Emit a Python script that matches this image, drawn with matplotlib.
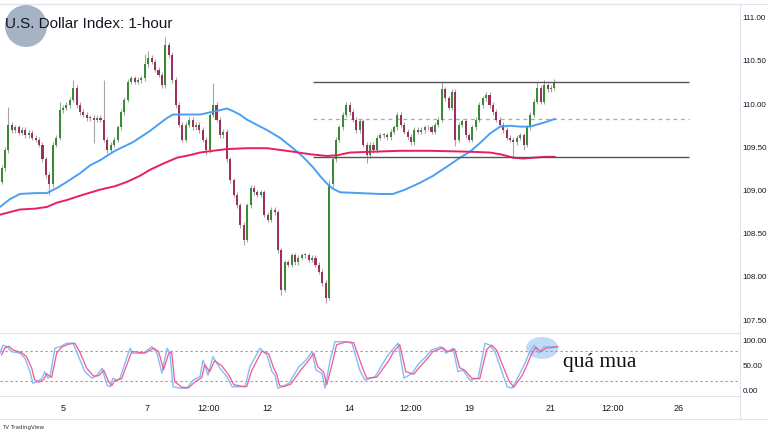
import matplotlib
matplotlib.use("Agg")
import matplotlib.pyplot as plt
import numpy as np
from matplotlib.patches import Ellipse
from matplotlib.lines import Line2D
from matplotlib import font_manager

# ---------------- data ----------------
# 2-hour candles; hour index relative to day "5" 00:00
candle_hours = list(range(-36, 290, 2))
closes = [
    109.26, 109.47, 109.76, 109.70, 109.73, 109.67, 109.70, 109.64, 109.67, 109.61,
    109.59, 109.53, 109.36, 109.18, 109.07, 109.53, 109.61, 109.93, 109.96, 109.99,
    110.05, 110.19, 109.99, 109.91, 109.88, 109.84, 109.84, 109.82, 109.84, 109.82,
    109.59, 109.47, 109.53, 109.59, 109.73, 109.91, 110.05, 110.26, 110.30, 110.26,
    110.28, 110.30, 110.46, 110.54, 110.49, 110.40, 110.34, 110.22, 110.69, 110.57,
    110.28, 109.99, 109.76, 109.59, 109.76, 109.82, 109.73, 109.76, 109.70, 109.59,
    109.47, 109.88, 109.99, 109.82, 109.64, 109.68, 109.36, 109.12, 108.95, 108.83,
    108.60, 108.43, 108.83, 109.03, 108.98, 108.95, 108.98, 108.72, 108.66, 108.78,
    108.75, 108.31, 107.85, 108.17, 108.14, 108.25, 108.17, 108.22, 108.25, 108.25,
    108.20, 108.22, 108.14, 108.06, 107.93, 107.76, 109.07, 109.36, 109.59, 109.73,
    109.88, 109.99, 109.91, 109.82, 109.70, 109.80, 109.53, 109.41, 109.53, 109.47,
    109.61, 109.64, 109.64, 109.62, 109.68, 109.73, 109.88, 109.76, 109.68, 109.62,
    109.56, 109.70, 109.68, 109.70, 109.73, 109.73, 109.68, 109.76, 109.82, 110.17,
    110.07, 109.96, 110.14, 109.59, 109.76, 109.80, 109.64, 109.59, 109.73, 109.82,
    109.99, 110.07, 110.11, 109.99, 109.91, 109.82, 109.76, 109.70, 109.61, 109.59,
    109.56, 109.61, 109.64, 109.53, 109.73, 109.88, 110.03, 110.19, 110.03, 110.22,
    110.17, 110.19, 110.24,
]
first_open = 109.10
# notable wick extremes (candle index -> price)
wick_highs = {2: 109.97, 17: 110.03, 21: 110.28, 30: 110.28, 42: 110.58, 43: 110.62,
              48: 110.78, 62: 110.25, 96: 109.12, 101: 110.03, 129: 110.26,
              132: 110.17, 142: 110.14, 157: 110.26, 159: 110.28, 162: 110.29}
wick_lows = {14: 108.95, 27: 109.55, 60: 109.41, 71: 108.37, 82: 107.79,
             95: 107.70, 107: 109.32, 133: 109.51, 150: 109.38, 153: 109.47}

# moving averages (hour, price)
ma_fast_hours = [-36.9, -31.1, -25.2, -16.4, -9.4, -3.5, 2.3, 10.0, 15.8, 21.7, 30.5,
                 41.0, 51.0, 56.9, 61.0, 64.5, 71.5, 80.3, 87.3, 92.0, 96.1, 99.6,
                 103.7, 107.9, 113.7, 119.6, 127.2, 134.8, 140.7, 146.5, 150.6, 154.7,
                 158.3, 162.4, 174.1, 185.8, 193.4, 200.5, 209.3, 216.9, 226.8, 232.7,
                 238.6, 244.4, 250.3, 256.2, 262.0, 267.9, 273.7, 282.5, 288.4]
ma_fast = [108.81, 108.90, 108.96, 108.97, 108.97, 109.03, 109.10, 109.20, 109.29,
           109.35, 109.46, 109.56, 109.69, 109.78, 109.84, 109.88, 109.88, 109.88,
           109.91, 109.93, 109.95, 109.92, 109.88, 109.82, 109.76, 109.70, 109.61,
           109.49, 109.39, 109.27, 109.17, 109.08, 109.02, 108.98, 108.97, 108.96,
           108.96, 109.01, 109.09, 109.17, 109.30, 109.38, 109.45, 109.55, 109.66,
           109.74, 109.75, 109.74, 109.74, 109.79, 109.83]
ma_slow_hours = [-36.9, -31.1, -25.2, -16.4, -9.4, -3.5, 2.3, 10.0, 21.7, 30.5, 37.5,
                 45.1, 51.0, 58.6, 66.8, 74.4, 80.3, 87.9, 96.1, 107.9, 119.6, 127.2,
                 134.8, 144.8, 154.7, 161.2, 168.2, 182.9, 197.5, 215.1, 236.8, 250.3,
                 256.2, 260.3, 263.8, 269.7, 275.5, 282.5, 288.4]
ma_slow = [108.72, 108.75, 108.78, 108.79, 108.81, 108.86, 108.89, 108.94, 109.01,
           109.05, 109.10, 109.17, 109.24, 109.31, 109.38, 109.41, 109.44, 109.46,
           109.48, 109.49, 109.49, 109.47, 109.45, 109.42, 109.40, 109.41, 109.44,
           109.45, 109.46, 109.46, 109.45, 109.44, 109.42, 109.40, 109.38, 109.37,
           109.38, 109.39, 109.39]

# range levels
level_top, level_mid, level_bot = 110.26, 109.83, 109.39
level_start, level_end = 146.5, 367

# stochastic
stoch_hours = [-36.9, -35.2, -32.8, -29.9, -25.2, -22.3, -19.3, -17.6, -15.2, -12.3,
               -10.6, -8.8, -7.6, -4.7, -1.8, 2.3, 5.9, 8.8, 12.9, 17.0,
               19.9, 22.9, 25.8, 27.6, 29.3, 31.7, 33.4, 39.3, 41.0, 46.9,
               52.2, 55.1, 58.0, 61.0, 62.7, 64.5, 68.6, 72.7, 76.2, 80.3,
               82.1, 85.0, 87.9, 92.0, 96.1, 99.1, 103.8, 106.7, 109.6, 115.5,
               119.6, 122.5, 124.3, 126.0, 128.4, 132.5, 138.3, 142.4, 146.0, 148.3,
               151.8, 153.6, 156.5, 159.4, 165.3, 169.4, 174.1, 177.0, 182.9, 189.9,
               192.8, 196.4, 199.9, 204.6, 208.7, 212.8, 215.7, 221.6, 224.5, 228.6,
               231.5, 234.5, 238.6, 243.3, 247.4, 250.3, 253.2, 260.3, 263.2, 267.9,
               270.8, 273.2, 276.1, 279.0, 281.9, 289.0]
stoch_k = [75, 91, 88, 78, 75, 65, 38, 15, 18, 25, 38, 25, 28, 85, 88, 95, 95, 71, 38, 25,
           31, 45, 11, 8, 25, 21, 25, 85, 75, 75, 88, 75, 35, 85, 75, 8, 5, 5, 21, 28,
           61, 31, 68, 45, 28, 8, 8, 8, 48, 85, 71, 38, 31, 5, 8, 15, 48, 61, 78, 41,
           35, 5, 60, 98, 98, 95, 40, 21, 28, 68, 81, 95, 25, 35, 55, 68, 81, 88, 75, 85,
           38, 41, 21, 25, 95, 91, 78, 8, 5, 35, 55, 75, 91, 75, 88, 88]
stoch_d = [72, 85, 89, 81, 76, 68, 45, 22, 17, 22, 34, 29, 27, 75, 87, 93, 95, 78, 45, 29,
           30, 41, 18, 10, 20, 22, 24, 78, 78, 75, 85, 78, 42, 75, 78, 18, 7, 6, 17, 26,
           52, 38, 60, 50, 32, 12, 9, 8, 40, 79, 74, 45, 33, 10, 8, 13, 41, 58, 75, 48,
           37, 12, 50, 92, 98, 96, 50, 25, 27, 60, 78, 92, 38, 33, 50, 65, 78, 86, 78, 83,
           46, 41, 25, 24, 83, 91, 81, 20, 7, 29, 50, 70, 87, 78, 85, 88]

price_ticks = [107.5, 108.0, 108.5, 109.0, 109.5, 110.0, 110.5, 111.0]
stoch_ticks = [0, 50, 100]
x_tick_hours = [0, 49, 85.5, 120, 168, 203.5, 238, 286, 322, 361]
x_tick_labels = ["5", "7", "12:00", "12", "14", "12:00", "19", "21", "12:00", "26"]

title = "U.S. Dollar Index: 1-hour"
note = "quá mua"

# ---------------- style ----------------
names = {f.name for f in font_manager.fontManager.ttflist}
narrow = "Liberation Sans Narrow" if "Liberation Sans Narrow" in names else "Liberation Sans"
serif = "Liberation Serif"

W, H = 768, 432
fig = plt.figure(figsize=(W / 100, H / 100), dpi=100)
fig.patch.set_facecolor("white")

def fy(py):
    return 1 - py / H

grid_c = "#e0e3eb"
txt_c = "#131722"
up_c, dn_c, wick_c = "#3b8a35", "#9e3060", "#a6a6a6"

ax = fig.add_axes([0, fy(333), 740 / W, (333 - 4) / H])
ax2 = fig.add_axes([0, fy(396), 740 / W, (396 - 333) / H], sharex=ax)

xmin, xmax = -36.9, 396.8
ax.set_xlim(xmin, xmax)
ax.set_ylim(107.35, 111.16)
ax2.set_ylim(-10.6, 115.4)

# candles
opens = [first_open] + closes[:-1]
pad = 0.03
highs, lows = [], []
for i, (o, c) in enumerate(zip(opens, closes)):
    highs.append(wick_highs.get(i, max(o, c) + pad))
    lows.append(wick_lows.get(i, min(o, c) - pad))
hrs = np.array(candle_hours, dtype=float)
o_arr, c_arr = np.array(opens), np.array(closes)
ax.vlines(hrs, lows, highs, color=wick_c, lw=0.8, zorder=2)
cols = [up_c if c >= o else dn_c for o, c in zip(o_arr, c_arr)]
heights = c_arr - o_arr
heights = np.where(np.abs(heights) < 0.01, 0.01, heights)
ax.bar(hrs, heights, bottom=o_arr, width=1.2, color=cols, zorder=3, linewidth=0)

# moving averages
ax.plot(ma_fast_hours, ma_fast, color="#4aa0f2", lw=1.4, zorder=4,
        solid_capstyle="round", solid_joinstyle="round")
ax.plot(ma_slow_hours, ma_slow, color="#e91e63", lw=1.4, zorder=4,
        solid_capstyle="round", solid_joinstyle="round")

# levels
ax.hlines([level_top, level_bot], level_start, level_end, color="#555555", lw=1.0, zorder=5)
ax.hlines([level_mid], level_start, level_end, color="#aaaaaa", lw=0.9,
          linestyles=(0, (3, 3)), zorder=1)

# price axis
ax.yaxis.tick_right()
ax.set_yticks(price_ticks)
ax.set_yticklabels([f"{v:.2f}" for v in price_ticks], fontsize=5.8, color=txt_c, family=narrow)
ax.tick_params(axis="y", length=0, pad=2)
ax.tick_params(axis="x", length=0, labelbottom=False)
for s in ["left", "bottom"]:
    ax.spines[s].set_visible(False)
for s in ["top", "right"]:
    ax.spines[s].set_color(grid_c)
    ax.spines[s].set_linewidth(0.8)

# stochastic pane
ax2.add_patch(Ellipse((280.8, 85.4), 18.8, 44, color="#b5d5f5", alpha=0.85, zorder=1, lw=0))
for lv in (80, 20):
    ax2.axhline(lv, color="#9598a1", lw=0.8, linestyle=(0, (2, 2.5)), zorder=1)
ax2.plot(stoch_hours, stoch_k, color="#86bdf4", lw=1.0, zorder=3, solid_joinstyle="round")
ax2.plot([h + 1.0 for h in stoch_hours], stoch_d, color="#ee5a93", lw=0.9, zorder=4,
         solid_joinstyle="round")
ax2.yaxis.tick_right()
ax2.set_yticks(stoch_ticks)
ax2.set_yticklabels([f"{v:.2f}" for v in stoch_ticks], fontsize=5.8, color=txt_c, family=narrow)
ax2.tick_params(axis="y", length=0, pad=2)
ax2.set_xticks(x_tick_hours)
ax2.set_xticklabels(x_tick_labels, fontsize=6.5, color=txt_c, family=narrow)
ax2.tick_params(axis="x", length=0, pad=5.5)
ax2.spines["left"].set_visible(False)
for s in ["top", "right", "bottom"]:
    ax2.spines[s].set_color(grid_c)
    ax2.spines[s].set_linewidth(0.8)

# outer frame lines
fig.add_artist(Line2D([0, 1], [fy(419), fy(419)], transform=fig.transFigure, color=grid_c, lw=0.8))
fig.add_artist(Line2D([740 / W, 740 / W], [fy(419), fy(396)], transform=fig.transFigure, color=grid_c, lw=0.8))
fig.add_artist(Line2D([0, 1], [fy(4), fy(4)], transform=fig.transFigure, color=grid_c, lw=0.8))

# logo + title
fig.add_artist(Ellipse((26 / W, fy(26)), 42 / W, 42 / H, transform=fig.transFigure,
                       color="#a5b3c4", lw=0, zorder=1))
fig.text(5 / W, fy(24), title, fontsize=11, color=txt_c, family=narrow, ha="left", va="center", zorder=3)

# annotation
fig.text(563 / W, fy(363), note, fontsize=15.5, color="#111111", family=serif, ha="left", va="center")

fig.text(2 / W, fy(428), "TV TradingView", fontsize=4, color="#333333", va="center")

fig.savefig("out.png", dpi=100)
